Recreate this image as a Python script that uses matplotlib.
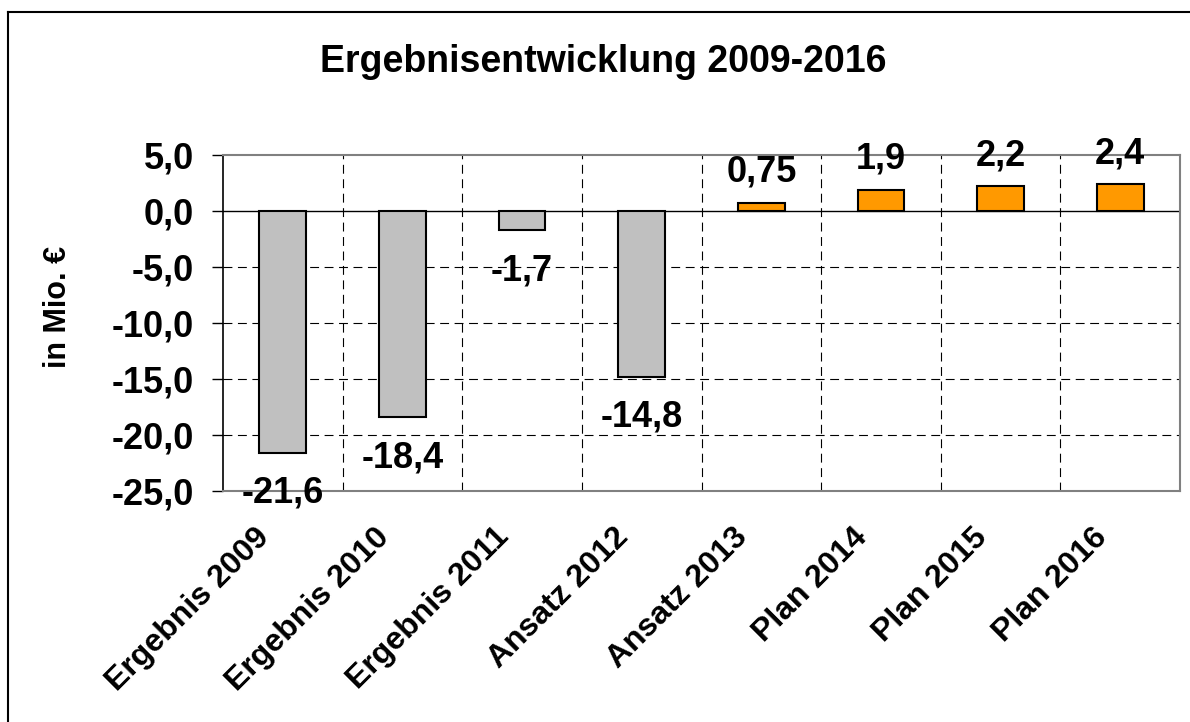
import numpy as np
import matplotlib.pyplot as plt
from matplotlib.lines import Line2D
from matplotlib.transforms import ScaledTranslation

plt.rcParams['font.family'] = ['Liberation Sans', 'DejaVu Sans']
plt.rcParams['font.weight'] = 'bold'

# Daten
kategorien = ['Ergebnis 2009', 'Ergebnis 2010', 'Ergebnis 2011', 'Ansatz 2012',
              'Ansatz 2013', 'Plan 2014', 'Plan 2015', 'Plan 2016']
werte = [-21.6, -18.4, -1.7, -14.8, 0.75, 1.9, 2.2, 2.4]
beschriftungen = ['-21,6', '-18,4', '-1,7', '-14,8', '0,75', '1,9', '2,2', '2,4']
farben = ['#C0C0C0'] * 4 + ['#FF9900'] * 4

fig = plt.figure(figsize=(11.9, 7.22), dpi=100)
ax = fig.add_axes([223 / 1190, 1 - 491 / 722, (1180 - 223) / 1190, (491 - 155) / 722])

x = np.arange(len(kategorien))
ax.bar(x, werte, width=0.39, color=farben, edgecolor='black', linewidth=1.5, zorder=3)

ax.set_xlim(-0.5, len(kategorien) - 0.5)
ax.set_ylim(-25, 5)
ax.set_yticks(np.arange(-25, 6, 5))
ax.set_yticklabels([f'{v:.1f}'.replace('.', ',') for v in np.arange(-25, 6, 5)], fontsize=26)

# Gitterlinien
for gx in np.arange(0.5, len(kategorien) - 0.5, 1):
    ax.axvline(gx, color='black', linestyle=(0, (8, 5)), linewidth=0.8, zorder=1)
for gy in [-20, -15, -10, -5]:
    ax.axhline(gy, color='black', linestyle=(0, (8, 5)), linewidth=0.8, zorder=1)
ax.axhline(0, color='black', linewidth=1.0, zorder=2)

for s in ['top', 'right', 'bottom']:
    ax.spines[s].set_color('#808080')
    ax.spines[s].set_linewidth(1.5)
ax.spines['left'].set_color('black')
ax.spines['left'].set_linewidth(1.2)

ax.tick_params(axis='y', direction='out', length=8, width=1.0, pad=13)
ax.set_xticks(x)
ax.set_xticklabels(kategorien, rotation=45, ha='right', va='center',
                   rotation_mode='anchor', fontsize=23)
ax.tick_params(axis='x', length=0, pad=30)
verschiebung = ScaledTranslation(-18 / 100, 0, fig.dpi_scale_trans)
for lab in ax.get_xticklabels():
    lab.set_transform(lab.get_transform() + verschiebung)

# Werte an den Balken
for xi, w, txt in zip(x, werte, beschriftungen):
    dy = -36 if w < 0 else 15
    ax.annotate(txt, (xi, w), xytext=(0, dy), textcoords='offset points',
                ha='center', va='baseline', fontsize=26, fontweight='bold',
                zorder=4, annotation_clip=False)

ax.set_ylabel('in Mio. €', fontsize=22, fontweight='bold')
ax.yaxis.set_label_coords(-0.157, 0.548)
fig.text(603 / 1190, 1 - 72 / 722, 'Ergebnisentwicklung 2009-2016', ha='center', va='baseline',
         fontsize=27, fontweight='bold')

# Rahmen des Diagramms (oben und links)
fig.add_artist(Line2D([8 / 1190, 1], [1 - 12 / 722, 1 - 12 / 722], color='black', linewidth=1.5,
                      transform=fig.transFigure))
fig.add_artist(Line2D([8 / 1190, 8 / 1190], [0, 1 - 12 / 722], color='black', linewidth=1.5,
                      transform=fig.transFigure))

fig.savefig('out.png', dpi=100)
